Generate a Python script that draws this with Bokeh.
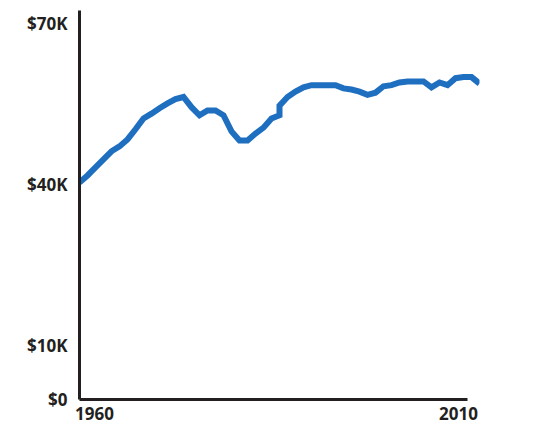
from bokeh.plotting import figure
from bokeh.models import Range1d, FixedTicker, LinearAxis
from bokeh.embed import file_html
from bokeh.resources import INLINE

years = [1960, 1961, 1962, 1963, 1964, 1965, 1966, 1967, 1968, 1969,
         1970, 1971, 1972, 1973, 1974, 1975, 1976, 1977, 1978, 1979,
         1980, 1981, 1982, 1983, 1984, 1985, 1985, 1986, 1987, 1988, 1989,
         1990, 1991, 1992, 1993, 1994, 1995, 1996, 1997, 1998, 1999,
         2000, 2001, 2002, 2003, 2004, 2005, 2006, 2007, 2008, 2009, 2010]
income = [40400, 41700, 43200, 44700, 46200, 47100, 48400, 50300, 52300, 53200,
          54200, 55100, 55900, 56300, 54400, 52900, 53800, 53800, 52900, 49900,
          48200, 48200, 49500, 50600, 52300, 52900, 54700, 56300, 57300, 58100, 58500,
          58500, 58500, 58500, 57900, 57700, 57300, 56700, 57100, 58300, 58500,
          59000, 59200, 59200, 59200, 58100, 59000, 58500, 59800, 60000, 60000, 58800]

y_ticks = [0, 10000, 40000, 70000]
y_tick_labels = ["$0", "$10K", "$40K", "$70K"]
x_ticks = [1960, 2010]
x_tick_labels = ["1960", "2010"]

FONT = "Open Sans"
INK = "#231f20"

p = figure(width=530, height=426, output_backend="svg", toolbar_location=None,
           x_range=Range1d(1960, 2010), y_range=Range1d(0, 72400),
           x_axis_location=None,
           min_border_left=79, min_border_right=51, min_border_top=10, min_border_bottom=27)
p.outline_line_color = None
p.grid.grid_line_color = None
p.background_fill_color = "white"
p.border_fill_color = "white"

p.line(years, income, line_color="#1f6fc0", line_width=6, line_join="miter")

ya = p.yaxis[0]
ya.ticker = FixedTicker(ticks=y_ticks)
ya.major_label_overrides = {t: l for t, l in zip(y_ticks, y_tick_labels)}
ya.major_tick_line_color = None
ya.minor_tick_line_color = None
ya.major_tick_out = 0
ya.major_label_standoff = 12
ya.axis_line_color = INK
ya.axis_line_width = 3
ya.major_label_text_font = FONT
ya.major_label_text_font_style = "bold"
ya.major_label_text_font_size = "17px"
ya.major_label_text_color = INK

# label scale for the x axis: year labels sit inside the data span (left/right aligned look)
p.extra_x_ranges = {"lab": Range1d(1957.94, 2012.885)}
xa = LinearAxis(x_range_name="lab")
xa.ticker = FixedTicker(ticks=x_ticks)
xa.major_label_overrides = {t: l for t, l in zip(x_ticks, x_tick_labels)}
xa.major_tick_line_color = None
xa.minor_tick_line_color = None
xa.major_tick_out = 0
xa.major_label_standoff = 7
xa.axis_line_color = INK
xa.axis_line_width = 3
xa.bounds = (1957.94, 2011.24)
xa.major_label_text_font = FONT
xa.major_label_text_font_style = "bold"
xa.major_label_text_font_size = "17px"
xa.major_label_text_color = INK
p.add_layout(xa, "below")

open("out.html", "w").write(file_html(p, INLINE))
